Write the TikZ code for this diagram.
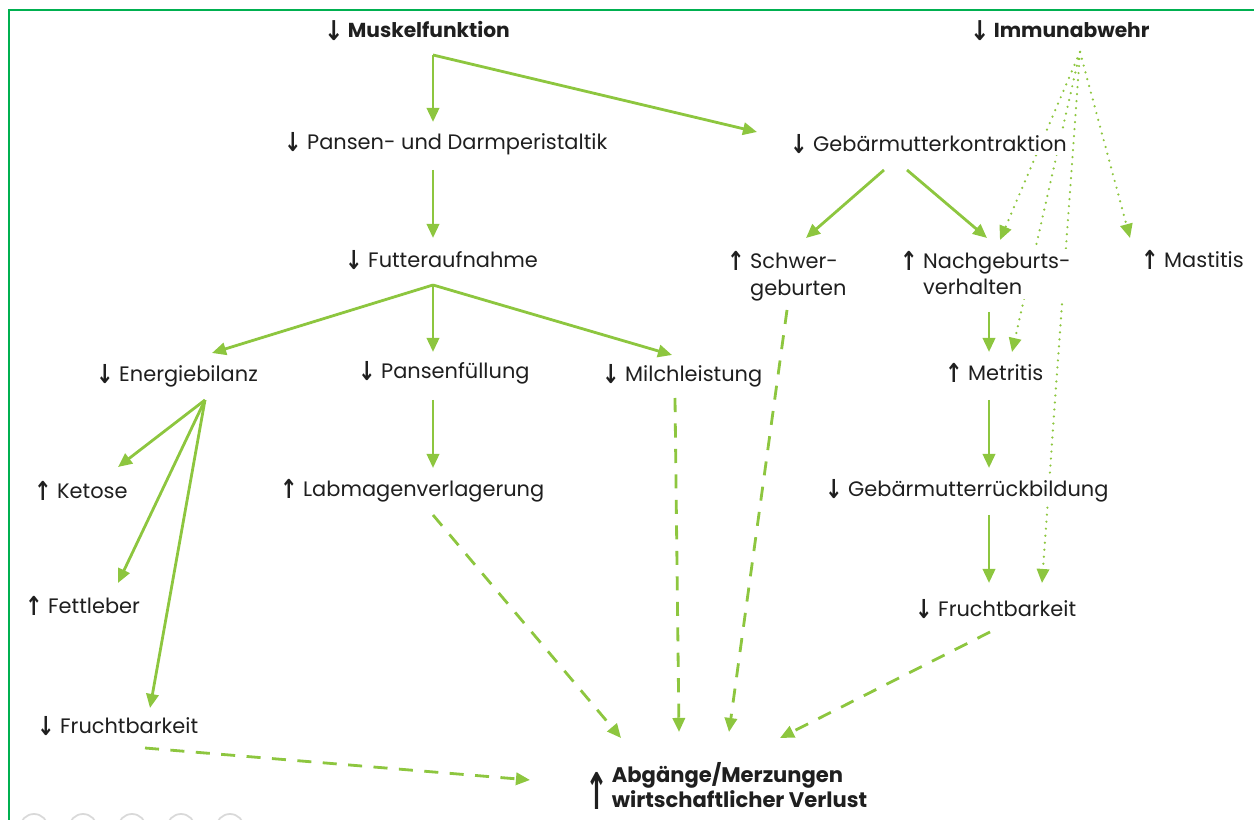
\documentclass[tikz,border=0pt]{standalone}
\usepackage{fontspec}
\setmainfont{Poppins}
\newfontfamily\arrowfont{DejaVu Sans}
\usetikzlibrary{arrows.meta,calc,backgrounds}
\definecolor{lgreen}{RGB}{141,198,63}
\definecolor{framegreen}{RGB}{0,176,80}
\newcommand{\dn}{\raisebox{-0.1em}{\scalebox{1}[1.25]{\arrowfont\bfseries ↓}}\ }
\newcommand{\up}{\raisebox{-0.1em}{\scalebox{1}[1.25]{\arrowfont\bfseries ↑}}\ }
\newcommand{\bdn}{\raisebox{-0.15em}{\scalebox{1.15}[1.35]{\arrowfont\bfseries ↓}}\ }

\begin{document}
\begin{tikzpicture}[x=0.02cm,y=-0.02cm,
  every node/.style={anchor=west,inner sep=1pt,fill=white,text=black!88,
    font=\fontsize{11.9}{15.2}\selectfont},
  head/.style={font=\fontsize{11.5}{13.6}\selectfont\bfseries},
  flow/.style={draw=lgreen,line width=1.6pt,-{Triangle[length=8pt,width=7pt]}},
  loss/.style={flow,dash pattern=on 8pt off 6.5pt},
  immun/.style={flow,line width=1.4pt,line cap=round,dash pattern=on 0pt off 4pt}]
\useasboundingbox (0,0) rectangle (1254,820);
\clip (0,0) rectangle (1254,820);
\draw[framegreen,line width=1.2pt] (9,830) -- (9,10) -- (1264,10);
\foreach \x in {34,83,132,181,230}
  \draw[black!15,line width=1pt] (\x,828) circle (14);

% causes
\node[head] (mf) at (322,31) {\bdn Muskelfunktion};
\node[head] (ia) at (968,31) {\bdn Immunabwehr};
\node (pd) at (282,144) {\dn Pansen- und Darmperistaltik};
\node (gk) at (788,144) {\dn Gebärmutterkontraktion};
\node (fa) at (343,260) {\dn Futteraufnahme};
\node[align=left] (sg) at (725,276) {\up Schwer-\\\phantom{\up}geburten};
\node[align=left] (nv) at (898,274) {\up Nachgeburts-\\\phantom{\up}verhalten};
\node (ms) at (1139,260) {\up Mastitis};
\node (eb) at (94,376) {\dn Energiebilanz};
\node (pf) at (356,373) {\dn Pansenfüllung};
\node (ml) at (600,376) {\dn Milchleistung};
\node (mt) at (943,373) {\up Metritis};
\node (ke) at (32,491) {\up Ketose};
\node (lv) at (278,491) {\up Labmagenverlagerung};
\node (gr) at (823,491) {\dn Gebärmutterrückbildung};
\node (fl) at (23,606) {\up Fettleber};
\node (frr) at (913,609) {\dn Fruchtbarkeit};
\node (frl) at (35,726) {\dn Fruchtbarkeit};
% result
\node[head,inner sep=0pt,font=\fontsize{12}{14.4}\selectfont\bfseries] (ab) at (585,789)
  {\raisebox{-0.7em}{\scalebox{1.3}[2.4]{\arrowfont\bfseries ↑}}\,%
  \begin{tabular}{@{}l@{}}Abgänge/Merzungen\\wirtschaftlicher Verlust\end{tabular}};

\begin{scope}[on background layer]
\draw[flow] ($(mf.west)+(111,24)$) coordinate (mfo) -- ($(pd.west)+(151,-22)$);
\draw[flow] (mfo) -- ($(gk.west)+(-31,-12)$);
\draw[flow] ($(pd.west)+(151,26)$) -- ($(fa.west)+(90,-22)$);
\draw[flow] ($(fa.west)+(90,25)$) coordinate (fao) -- ($(eb.west)+(118,-23)$);
\draw[flow] (fao) -- ($(pf.west)+(77,-21)$);
\draw[flow] (fao) -- ($(ml.west)+(72,-21)$);
\draw[flow] ($(gk.west)+(96,26)$) -- ($(sg.west)+(81,-38)$);
\draw[flow] ($(gk.west)+(119,26)$) -- ($(nv.west)+(89,-36)$);
\draw[flow] ($(nv.west)+(91,38)$) -- ($(mt.west)+(46,-21)$);
\draw[flow] ($(eb.west)+(111,24)$) coordinate (ebo) -- ($(ke.west)+(86,-24)$);
\draw[flow] (ebo) -- ($(fl.west)+(95,-23)$);
\draw[flow] (ebo) -- ($(frl.west)+(115,-18)$);
\draw[flow] ($(pf.west)+(77,27)$) -- ($(lv.west)+(155,-23)$);
\draw[flow] ($(mt.west)+(46,27)$) -- ($(gr.west)+(166,-23)$);
\draw[flow] ($(gr.west)+(166,24)$) -- ($(frr.west)+(76,-26)$);
% losses
\draw[loss] ($(frl.west)+(110,22)$) -- ($(ab.west)+(-55,-9)$);
\draw[loss] ($(lv.west)+(155,24)$) -- ($(ab.west)+(36,-51)$);
\draw[loss] ($(ml.west)+(75,22)$) -- ($(ab.west)+(94,-57)$);
\draw[loss] ($(sg.west)+(62,34)$) -- ($(ab.west)+(144,-57)$);
\draw[loss] ($(frr.west)+(77,23)$) -- ($(ab.west)+(195,-51)$);
% immune system
\draw[immun] ($(ia.west)+(112,21)$) coordinate (iao) -- ($(nv.west)+(102,-34)$);
\draw[immun] (iao) -- ($(mt.west)+(69,-21)$);
\draw[immun] (iao) -- ($(frr.west)+(129,-26)$);
\draw[immun] (iao) -- ($(ms.west)+(-9,-22)$);
\end{scope}
\end{tikzpicture}
\end{document}
